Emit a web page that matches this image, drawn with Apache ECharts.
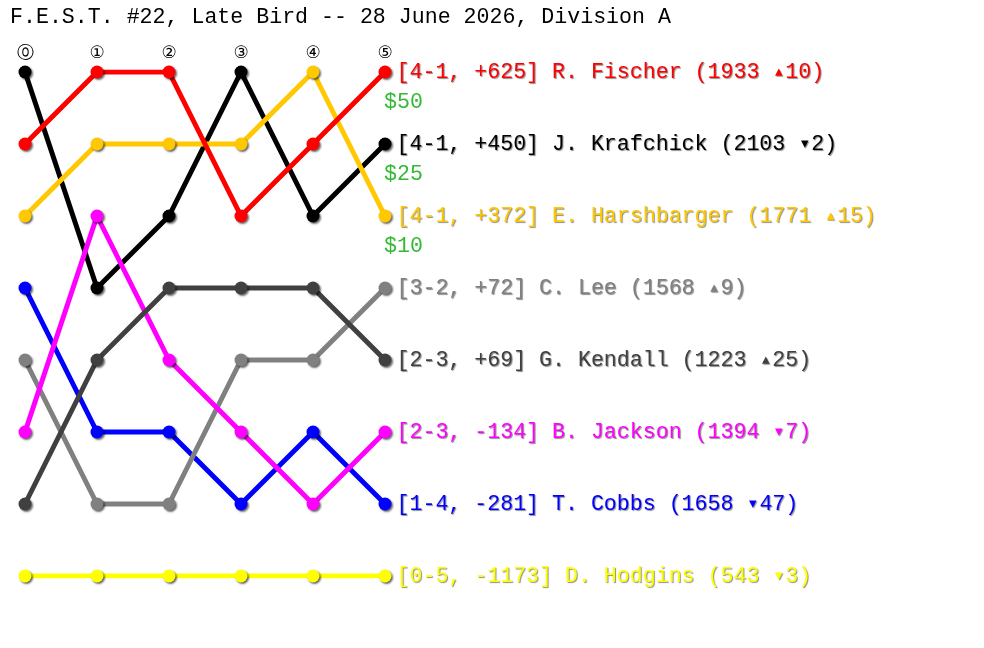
<!DOCTYPE html>
<html><head><meta charset="utf-8">
<script src="https://cdn.jsdelivr.net/npm/echarts@6/dist/echarts.min.js"></script>
<style>html,body{margin:0;padding:0;background:#fff}#c{width:984px;height:648px}</style>
</head><body><div id="c"></div>
<script>
const title = 'F.E.S.T. #22, Late Bird -- 28 June 2026, Division A';
const roundLabels = ['⓪','①','②','③','④','⑤'];
const players = ['J. Krafchick','R. Fischer','E. Harshbarger','T. Cobbs','C. Lee','B. Jackson','G. Kendall','D. Hodgins'];
const colors = ['#000000','#ff0000','#ffc800','#0000ff','#808080','#ff00ff','#404040','#ffff00'];
const ranks = [
  [1,4,3,1,3,2],
  [2,1,1,3,2,1],
  [3,2,2,2,1,3],
  [4,6,6,7,6,7],
  [5,7,7,5,5,4],
  [6,3,5,6,7,6],
  [7,5,4,4,4,5],
  [8,8,8,8,8,8]
];
const records = ['4-1, +450','4-1, +625','4-1, +372','1-4, -281','3-2, +72','2-3, -134','2-3, +69','0-5, -1173'];
const ratings = ['2103','1933','1771','1658','1568','1394','1223','543'];
const arrows = ['▾','▴','▴','▾','▴','▾','▴','▾'];
const deltas = ['2','10','15','47','9','7','25','3'];
const prizes = ['$50','$25','$10'];
const prizeRanks = [1,2,3];

const FONT = 'Liberation Mono';
const shadow = { textShadowColor: 'rgba(0,0,0,0.45)', textShadowOffsetX: 1, textShadowOffsetY: 1, textShadowBlur: 1 };
const series = players.map((p, i) => ({
  type: 'line',
  name: p,
  z: i === 1 ? 10 : 2,
  data: ranks[i].map((r, k) => k === ranks[i].length - 1 ? {
    value: [k, r],
    label: {
      show: true, position: 'right', distance: 5,
      formatter: '{m|[' + records[i] + '] ' + p + ' (' + ratings[i] + ' }{t|' + arrows[i] + '}{m|' + deltas[i] + ')}',
      rich: {
        m: Object.assign({ color: colors[i], fontFamily: FONT, fontSize: 21.6 }, shadow),
        t: Object.assign({ color: colors[i], fontFamily: 'DejaVu Sans', fontSize: 15, width: 13, align: 'center', verticalAlign: 'middle' }, shadow)
      }
    }
  } : [k, r]),
  symbol: 'circle', symbolSize: 13,
  lineStyle: { color: colors[i], width: 5 },
  itemStyle: { color: colors[i], shadowColor: 'rgba(0,0,0,0.6)', shadowOffsetX: 1.5, shadowOffsetY: 1.5, shadowBlur: 2 },
  emphasis: { disabled: true },
  animation: false
}));
series.push({
  type: 'scatter',
  data: prizeRanks.map((r, j) => ({
    value: [5, r],
    label: {
      show: true, formatter: prizes[j], position: [-1, 30], align: 'left', verticalAlign: 'middle',
      color: '#00a800', fontFamily: FONT, fontSize: 21.6
    }
  })),
  symbolSize: 0, silent: true, animation: false, z: 20
});

const chart = echarts.init(document.getElementById('c'));
chart.setOption({
  backgroundColor: '#fff',
  title: { text: title, left: 5, top: 1, textStyle: { fontFamily: FONT, fontSize: 21.6, fontWeight: 'normal', color: '#000' } },
  grid: { left: 25, right: 599, top: 72, bottom: 72, containLabel: false },
  xAxis: {
    type: 'value', min: 0, max: 5, interval: 1, position: 'top',
    axisLine: { show: false }, axisTick: { show: false }, splitLine: { show: false },
    axisLabel: { formatter: v => roundLabels[v], margin: 10, fontSize: 17, color: '#000', fontFamily: 'DejaVu Sans' }
  },
  yAxis: {
    type: 'value', min: 1, max: 8, inverse: true, show: false
  },
  series: series
});
</script></body></html>
